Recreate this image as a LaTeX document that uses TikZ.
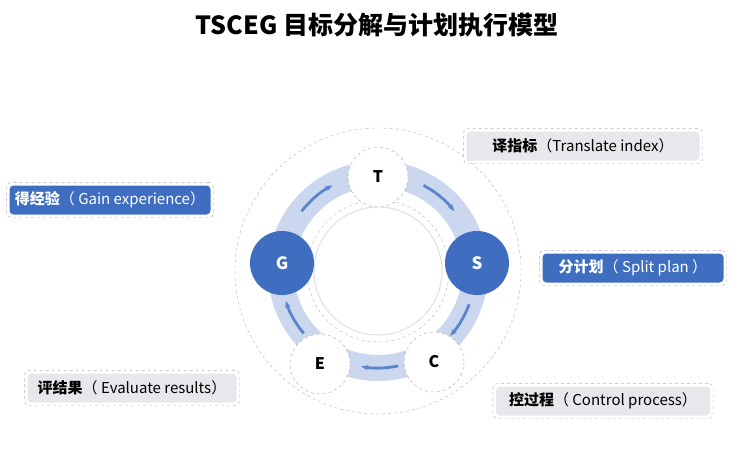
\documentclass[tikz,border=0pt]{standalone}
\usepackage{fontspec}
\setmainfont{Noto Sans CJK SC}
\usetikzlibrary{positioning, fit, arrows.meta}
\definecolor{mainblue}{HTML}{3F6EC0}
\definecolor{bandblue}{HTML}{CAD7EF}
\definecolor{boxgray}{HTML}{E6E8EC}
\tikzset{
    stage/.style={circle, draw=gray!70, dashed, fill=white, minimum size=60pt, font=\bfseries\fontsize{16}{16}\selectfont},
    keystage/.style={circle, fill=mainblue, text=white, minimum size=64pt, font=\bfseries\fontsize{17}{17}\selectfont},
    tag/.style={rounded corners=4pt, fill=boxgray, minimum height=29pt, font=\fontsize{15}{16}\selectfont},
    keytag/.style={tag, fill=mainblue, text=white},
    frame/.style={draw=gray!60, dashed, rounded corners=5pt, inner sep=3pt},
    flow/.style={-{Stealth[length=7pt]}, mainblue!85, line width=2.8pt}
}
\begin{document}
\begin{tikzpicture}[x=1pt, y=1pt]
        \useasboundingbox (0, 0) rectangle (753, 451);
        \node[font=\bfseries\fontsize{25}{26}\selectfont] (title) at (377, 426) {TSCEG 目标分解与计划执行模型};
        \coordinate (O) at (378, 180);
        \draw[gray!60, dashed] (O) circle (143);
        \fill[bandblue, even odd rule] (O) circle (110) (O) circle (84);
        \draw[gray!60, dashed] (O) circle (71);
        \draw[gray!25, line width=1pt] (O) circle (64);
        % arrows inside the band
        \draw[flow] ([shift={(O)}]62:97) arc (62:38:97);
        \draw[flow] ([shift={(O)}]-20:97) arc (-20:-42:97);
        \draw[flow] ([shift={(O)}]-78:97) arc (-78:-100:97);
        \draw[flow] ([shift={(O)}]-140:97) arc (-140:-162:97);
        \draw[flow] ([shift={(O)}]142:97) arc (142:118:97);
        % stages
        \node[stage] (T) at (378, 274) {T};
        \node[keystage] (S) at (477, 188) {S};
        \node[stage] (C) at (434, 89) {C};
        \node[stage] (E) at (320, 87) {E};
        \node[keystage] (G) at (282, 188) {G};
        % labels
        \node[tag, minimum width=233pt] (tT) at (583, 305) {\textbf{译指标}（Translate index）};
        \node[keytag, minimum width=181pt] (tS) at (633, 183) {\textbf{分计划}（ Split plan ）};
        \node[tag, minimum width=214pt] (tC) at (603, 50) {\textbf{控过程}（ Control process）};
        \node[tag, minimum width=209pt] (tE) at (132, 63) {\textbf{评结果}（ Evaluate results）};
        \node[keytag, minimum width=201pt] (tG) at (110, 251) {\textbf{得经验}（ Gain experience）};
        \foreach \t in {tT, tS, tC, tE, tG}
            \node[frame, fit=(\t)] {};
    \end{tikzpicture}
\end{document}
